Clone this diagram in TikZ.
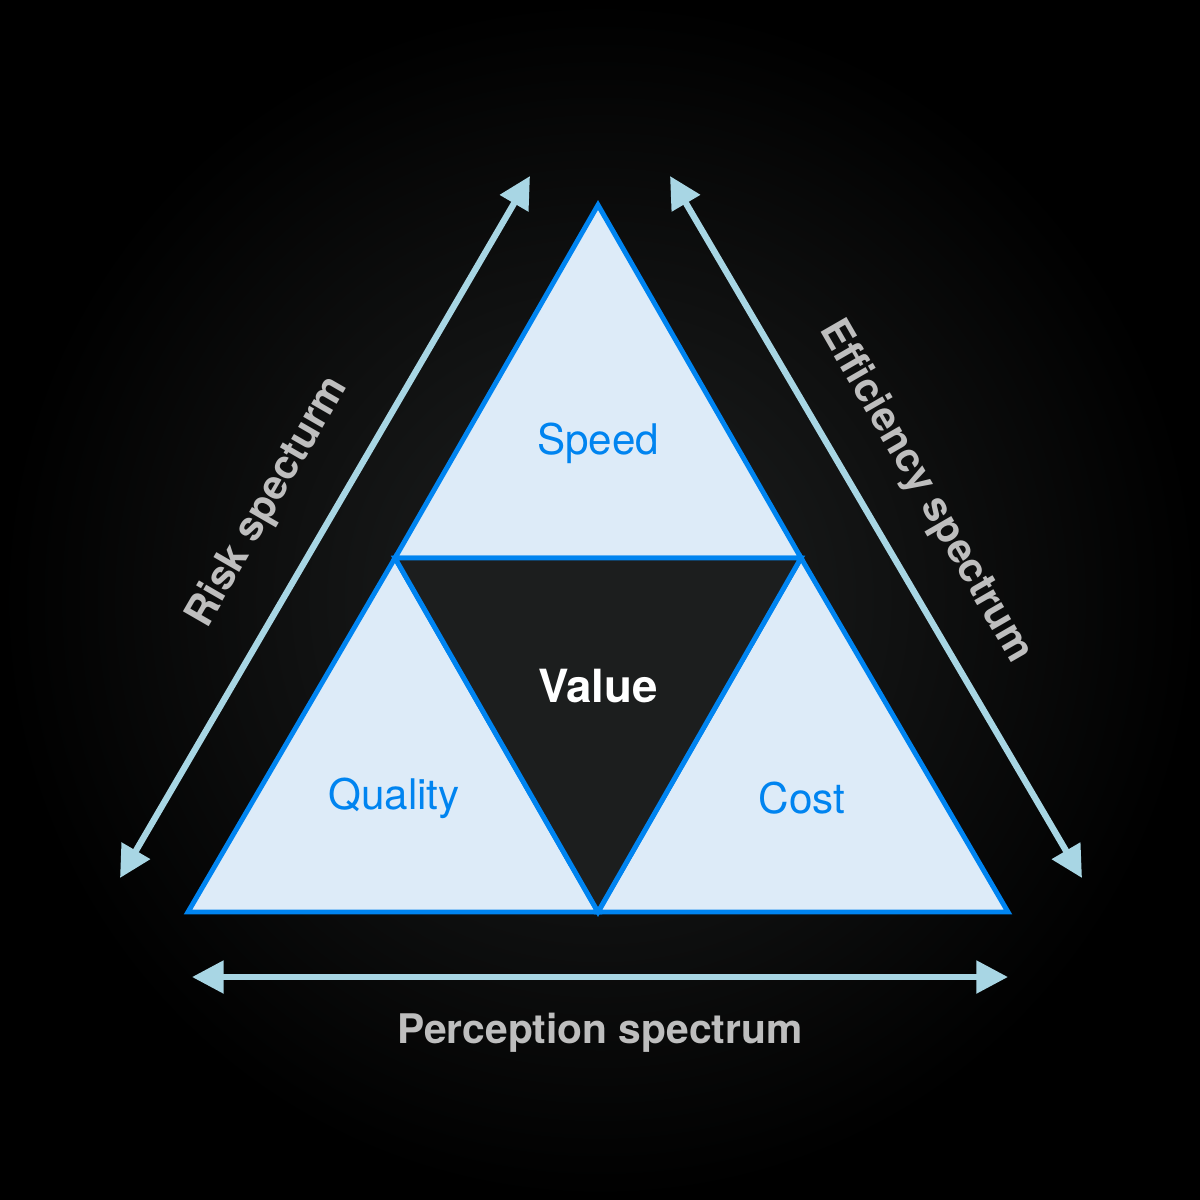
\documentclass[tikz,border=0pt]{standalone}
\usepackage{fontspec}
\setmainfont{TeX Gyre Heros}
\usetikzlibrary{arrows.meta}
\definecolor{bgmid}{RGB}{32,34,34}
\definecolor{facefill}{RGB}{221,235,248}
\definecolor{edgeblue}{RGB}{0,132,240}
\definecolor{arrowblue}{RGB}{168,214,228}
\definecolor{labelgray}{RGB}{190,190,190}
\definecolor{corefill}{RGB}{28,30,30}

\begin{document}
\begin{tikzpicture}[x=0.01cm,y=-0.01cm,
    face/.style={fill=facefill,draw=edgeblue,line width=1.4pt,line join=miter},
    spectrum/.style={<->,>={Triangle[length=9pt,width=9pt]},draw=arrowblue,line width=1.8pt},
    facelabel/.style={text=edgeblue,font=\fontsize{12}{14}\selectfont},
    speclabel/.style={text=labelgray,font=\bfseries\fontsize{11.6}{13}\selectfont,inner sep=1pt}]

    % dark background with a soft glow in the middle
    \shade[inner color=bgmid,outer color=black] (0,0) rectangle (1200,1200);
    \useasboundingbox (0,0) rectangle (1200,1200);

    % corners of the triangle
    \coordinate (top) at (598,205);
    \coordinate (bl) at (188,912);
    \coordinate (br) at (1008,912);
    \coordinate (ml) at (395,558);
    \coordinate (mr) at (801,558);
    \coordinate (mb) at (598,912);

    % the four faces
    \draw[face] (top) -- (mr) -- (ml) -- cycle;
    \draw[face] (ml) -- (mb) -- (bl) -- cycle;
    \draw[face] (mr) -- (br) -- (mb) -- cycle;
    \draw[face,fill=corefill] (ml) -- (mr) -- (mb) -- cycle;

    \node[facelabel] (speed) at (598,443) {Speed};
    \node[facelabel] (quality) at (394,798) {Quality};
    \node[facelabel] (cost) at (802,798) {Cost};
    \node[text=white,font=\bfseries\fontsize{13}{15}\selectfont] (value) at (598,686) {Value};

    % spectrum arrows
    \coordinate (riskA) at (120,878);
    \coordinate (riskB) at (530,176);
    \coordinate (effA) at (670,176);
    \coordinate (effB) at (1082,878);
    \coordinate (percA) at (192,977);
    \coordinate (percB) at (1008,977);
    \draw[spectrum] (riskA) -- (riskB);
    \draw[spectrum] (effA) -- (effB);
    \draw[spectrum] (percA) -- (percB);

    \node[speclabel,rotate=60] (risk) at (268,502) {Risk specturm};
    \node[speclabel,rotate=-60] (eff) at (925,492) {Efficiency spectrum};
    \node[speclabel] (perc) at (600,1033) {Perception spectrum};
\end{tikzpicture}
\end{document}
